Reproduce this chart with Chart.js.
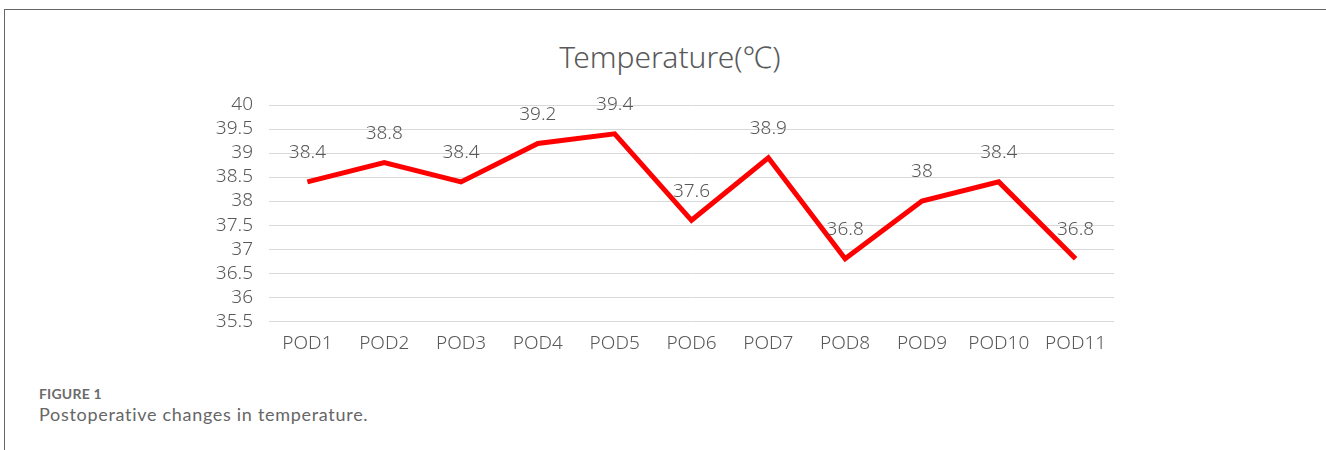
<!DOCTYPE html>
<html>
<head>
<meta charset="utf-8">
<script src="https://cdn.jsdelivr.net/npm/chart.js@4"></script>
<style>
    body { margin: 0; background: #fff; width: 1326px; height: 450px; position: relative; overflow: hidden; }
    .frame { position: absolute; left: 4px; top: 9px; right: 0; bottom: 0; border-top: 1px solid #666; border-left: 1px solid #666; }
    .chart-title { position: absolute; left: 0; width: 1340px; top: 38px; text-align: center; font-family: "Noto Sans", sans-serif; font-weight: 300; font-size: 30px; line-height: 38px; color: #595959; }
    .chart-box { position: absolute; left: 0; top: 0; width: 1326px; height: 366px; }
    .fig-label { position: absolute; left: 39px; top: 385px; font-family: Lato, "Open Sans", sans-serif; font-weight: bold; font-size: 14px; color: #6b6b6b; letter-spacing: 0.2px; }
    .fig-caption { position: absolute; left: 39px; top: 403px; font-family: Lato, "Open Sans", sans-serif; font-size: 18px; color: #666; letter-spacing: 0.7px; }
</style>
</head>
<body>
<div class="frame"></div>
<div class="chart-title">Temperature(℃)</div>
<div class="chart-box"><canvas id="tempChart"></canvas></div>
<div class="fig-label">FIGURE 1</div>
<div class="fig-caption">Postoperative changes in temperature.</div>

<script>
// Data
const days = ['POD1', 'POD2', 'POD3', 'POD4', 'POD5', 'POD6', 'POD7', 'POD8', 'POD9', 'POD10', 'POD11'];
const temperatures = [38.4, 38.8, 38.4, 39.2, 39.4, 37.6, 38.9, 36.8, 38, 38.4, 36.8];
const yTicks = [35.5, 36, 36.5, 37, 37.5, 38, 38.5, 39, 39.5, 40];

const textColor = '#595959';
const fontFamily = '"Noto Sans", sans-serif';

// Draws the value above each point
const pointLabels = {
    id: 'pointLabels',
    afterDatasetsDraw(chart) {
        const ctx = chart.ctx;
        const meta = chart.getDatasetMeta(0);
        ctx.save();
        ctx.font = '300 19px ' + fontFamily;
        ctx.fillStyle = textColor;
        ctx.textAlign = 'center';
        ctx.textBaseline = 'middle';
        meta.data.forEach((pt, i) => {
            ctx.fillText(String(temperatures[i]), pt.x, pt.y - 29);
        });
        ctx.restore();
    }
};

const ctx = document.getElementById('tempChart').getContext('2d');
new Chart(ctx, {
    type: 'line',
    data: {
        labels: days,
        datasets: [{
            label: 'Temperature',
            data: temperatures,
            borderColor: '#ff0000',
            borderWidth: 5,
            pointRadius: 0,
            fill: false,
            tension: 0
        }]
    },
    options: {
        responsive: true,
        maintainAspectRatio: false,
        animation: false,
        layout: {
            padding: { left: 0, right: 212, top: 105, bottom: 0 }
        },
        plugins: {
            legend: { display: false },
            tooltip: { enabled: false },
            title: { display: false }
        },
        scales: {
            x: {
                offset: true,
                grid: { display: false, drawTicks: false },
                border: { display: false },
                ticks: {
                    color: textColor,
                    font: { size: 19, family: fontFamily, weight: 300 },
                    padding: 11
                }
            },
            y: {
                min: 35.5,
                max: 40,
                afterFit(scale) { scale.width = 269; },
                afterBuildTicks(scale) { scale.ticks = yTicks.map(v => ({ value: v })); },
                grid: { color: '#d9d9d9', lineWidth: 1, drawTicks: false },
                border: { display: false },
                ticks: {
                    autoSkip: false,
                    color: textColor,
                    font: { size: 19, family: fontFamily, weight: 300 },
                    padding: 16,
                    callback: value => String(value)
                }
            }
        }
    },
    plugins: [pointLabels]
});
</script>
</body>
</html>
